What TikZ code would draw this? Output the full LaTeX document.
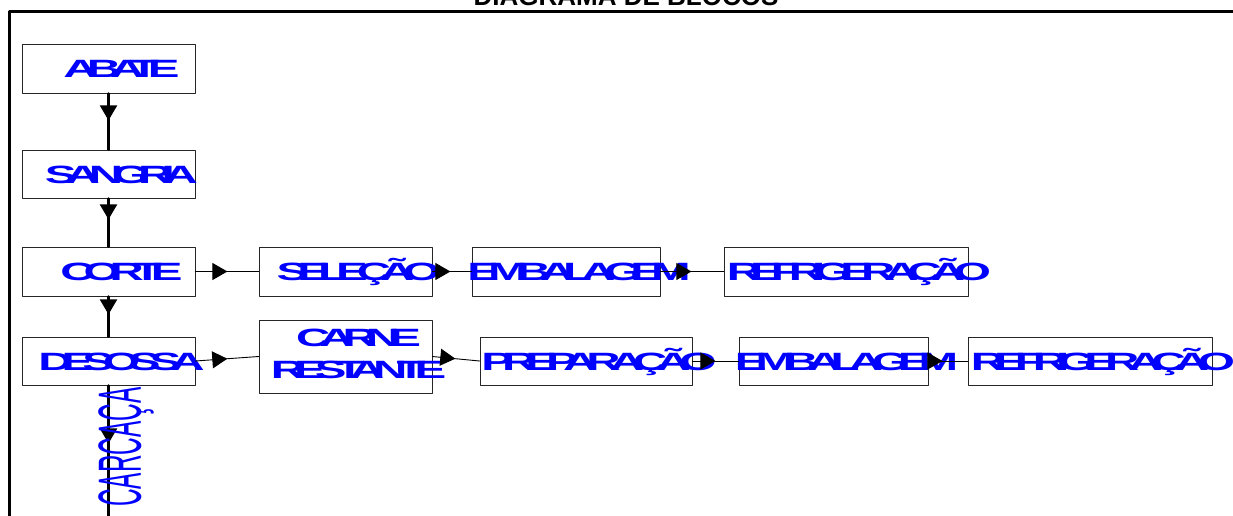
\documentclass[tikz,border=0pt]{standalone}
\usepackage{fontspec}
\setmainfont{Liberation Sans}
\newfontfamily\blocofont{Liberation Sans Bold}[FakeStretch=1.9,LetterSpace=-44]
\newfontfamily\carcfont{Liberation Sans}[FakeStretch=0.4]
\usetikzlibrary{arrows.meta,decorations.markings}

\definecolor{azul}{RGB}{0,0,255}

% texto do bloco, um pouco deslocado para a direita
\newcommand{\rotulo}[1]{\makebox[0pt]{\hspace*{26pt}#1}}

\tikzset{
  bloco/.style={draw=black!85, line width=0.8pt, minimum height=49pt, inner sep=0pt,
    text height=18pt, text depth=0pt, text=azul,
    font=\blocofont\fontsize{25}{32}\selectfont},
  liga/.style={line width=0.9pt},
  ligav/.style={line width=2.2pt},
  seta/.style={postaction={decorate}, decoration={markings,
    mark=at position #1 with {\arrow{Triangle[length=15pt,width=17pt]}}}},
}

\begin{document}
\begin{tikzpicture}[x=1pt, y=-1pt, line cap=round, line join=round]

\clip (0,0) rectangle (1233,515);
\useasboundingbox (0,0) rectangle (1233,515);

% moldura e titulo
\draw[line width=2.6pt] (9.5,530) -- (9.5,11.5) -- (1250,11.5);
\node[anchor=base, font=\bfseries\fontsize{26}{26}\selectfont] (titulo) at (626,5) {DIAGRAMA DE BLOCOS};

% primeira coluna
\node[bloco, minimum width=173pt] (abate) at (108.5,68.5) {\rotulo{ABATE}};
\node[bloco, minimum width=173pt, minimum height=48pt] (sangria) at (108.5,174) {\rotulo{SANGRIA}};
\node[bloco, minimum width=173pt] (corte) at (108.5,271.5) {\rotulo{CORTE}};
\node[bloco, minimum width=173pt, minimum height=48pt] (desossa) at (108.5,361) {\rotulo{DESOSSA}};

% linha do corte
\node[bloco, minimum width=173pt] (selecao) at (345.5,271.5) {\rotulo{SELEÇÃO}};
\node[bloco, minimum width=188pt] (emb1) at (566,271.5) {\rotulo{EMBALAGEM}};
\node[bloco, minimum width=244pt] (refrig1) at (846,271.5) {\rotulo{REFRIGERAÇÃO}};

% linha da desossa
\node[bloco, minimum width=173pt, minimum height=73pt, text height=, text depth=] (carne) at (345.5,356.5)
  {\rotulo{\begin{tabular}{@{}c@{}}CARNE\\RESTANTE\end{tabular}}};
\node[bloco, minimum width=212pt, minimum height=48pt] (prep) at (586,361) {\rotulo{PREPARAÇÃO}};
\node[bloco, minimum width=189pt, minimum height=48pt] (emb2) at (833.5,361) {\rotulo{EMBALAGEM}};
\node[bloco, minimum width=244pt, minimum height=48pt] (refrig2) at (1090,361) {\rotulo{REFRIGERAÇÃO}};

\coordinate (fim) at (108.5,530);

% ligacoes
\draw[ligav, seta=27pt] (abate) -- (sangria);
\draw[ligav, seta=21pt] (sangria) -- (corte);
\draw[ligav, seta=18pt] (corte) -- (desossa);
\draw[ligav, seta=58pt] (desossa) -- (fim);

\draw[liga, seta=32pt] (corte) -- (selecao);
\draw[liga, seta=18pt] (selecao) -- (emb1);
\draw[liga, seta=31pt] (emb1) -- (refrig1);

\draw[liga, seta=32pt] (desossa.east) -- (carne.west);
\draw[liga, seta=23pt] (carne.east) -- (prep.west);
\draw[liga, seta=23pt] (prep) -- (emb2);
\draw[liga, seta=14pt] (emb2) -- (refrig2);

\node[rotate=90, inner sep=0pt, text=azul, font=\carcfont\fontsize{61}{61}\selectfont] (carcaca) at (126,447) {CARCAÇA};

\end{tikzpicture}
\end{document}
